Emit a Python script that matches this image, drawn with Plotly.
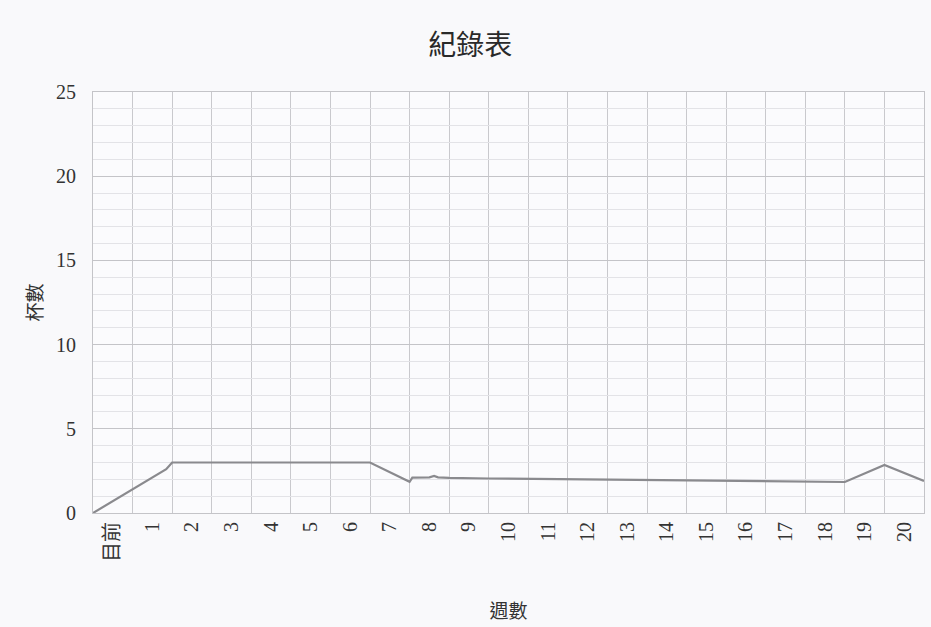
import plotly.graph_objects as go

# week positions (category boundaries) and cup counts
week_pos = [0, 1, 1.85, 2, 3, 4, 5, 6, 7, 8, 8.07, 8.5, 8.62, 8.72, 9, 10, 11, 12,
            13, 14, 15, 16, 17, 18, 19, 20, 21]
cups = [0, 1.4, 2.6, 3.0, 3.0, 3.0, 3.0, 3.0, 3.0, 1.85, 2.1, 2.12, 2.2, 2.12, 2.08,
        2.05, 2.03, 2.0, 1.98, 1.96, 1.94, 1.92, 1.89, 1.86, 1.84, 2.85, 1.9]

week_labels = ["目前"] + [str(i) for i in range(1, 21)]
label_pos = [i + 0.5 for i in range(21)]
grid_pos = list(range(22))

title_text = "紀錄表"
x_title = "週數"
y_title = "杯數"

serif = "Liberation Serif, Noto Sans CJK TC, serif"
cjk = "Noto Sans CJK TC, sans-serif"

fig = go.Figure()
fig.add_trace(go.Scatter(
    x=week_pos, y=cups, mode="lines",
    line=dict(color="#8a8a8e", width=2.2),
    hoverinfo="skip", showlegend=False,
))

fig.update_layout(
    width=931, height=627,
    margin=dict(l=93, r=7, t=92, b=114),
    paper_bgcolor="#f9f9fb",
    plot_bgcolor="#fbfbfd",
    title=dict(text=title_text, x=0.505, xanchor="center", y=0.928, yanchor="middle",
               font=dict(family=cjk, size=28, color="#2a2a2a")),
    xaxis=dict(
        range=[0, 21],
        tickmode="array", tickvals=label_pos, ticktext=week_labels,
        tickangle=-90, ticks="", showgrid=False, zeroline=False,
        tickfont=dict(family=serif, size=20, color="#333"),
        showline=True, linecolor="#c4c4c8", linewidth=1, mirror=True,
        minor=dict(tickmode="array", tickvals=grid_pos, showgrid=True,
                   gridcolor="#c9c9cd", gridwidth=1, ticks=""),
        title=dict(text=x_title, font=dict(family=cjk, size=19, color="#333"), standoff=43),
    ),
    yaxis=dict(
        range=[0, 25], dtick=5, tick0=0,
        showgrid=True, gridcolor="#c4c4c8", gridwidth=1, zeroline=False,
        ticks="", ticklabelstandoff=12,
        tickfont=dict(family=serif, size=20, color="#333"),
        showline=True, linecolor="#c4c4c8", linewidth=1, mirror=True,
        minor=dict(dtick=1, tick0=0, showgrid=True, gridcolor="#e3e3e7", gridwidth=1, ticks=""),
        title=dict(text=y_title, font=dict(family=cjk, size=19, color="#333"), standoff=8),
    ),
)

fig.write_html("out.html")
